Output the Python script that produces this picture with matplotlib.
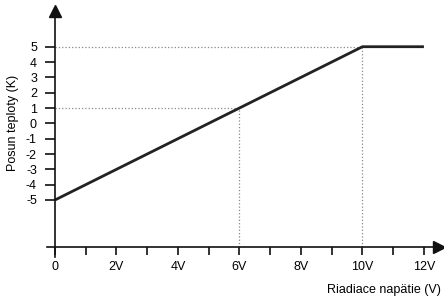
import numpy as np
import matplotlib.pyplot as plt

plt.rc('font', family=['Liberation Sans', 'DejaVu Sans'], size=9)

# characteristic: control voltage -> temperature shift
volts = [0, 10, 12]
shift = [-5, 5, 5]

# helper guide points (dotted)
guide_v = [6, 10]
guide_t = [1, 5]

xticks_major = [0, 2, 4, 6, 8, 10, 12]
xtick_labels = ['0', '2V', '4V', '6V', '8V', '10V', '12V']
xticks_minor = [1, 3, 5, 7, 9, 11]
yticks = [-5, -4, -3, -2, -1, 0, 1, 2, 3, 4, 5]
ytick_labels = ['-5', '-4', '-3', '-2', '-1', '0', '1', '2', '3', '4', '5']

W, H = 444, 299
fig = plt.figure(figsize=(W / 100, H / 100), dpi=100)
# axes box in pixels: left 47, right 439, top 11, bottom 257
ax = fig.add_axes([47 / W, (H - 257) / H, (439 - 47) / W, (257 - 11) / H])

x_lo, x_hi = -0.26, 12.49
y_lo, y_hi = -8.72, 7.33
y_axis0 = -8.07  # where the horizontal axis sits
ax.set_xlim(x_lo, x_hi)
ax.set_ylim(y_lo, y_hi)

for s in ['top', 'right']:
    ax.spines[s].set_visible(False)
ax.spines['left'].set_position(('data', 0))
ax.spines['bottom'].set_position(('data', y_axis0))
for s in ['left', 'bottom']:
    ax.spines[s].set_linewidth(1.2)
    ax.spines[s].set_color('#111111')

# arrow heads
ax.plot(0, 1, marker='^', color='#111111', markersize=9,
        transform=ax.get_xaxis_transform(), clip_on=False)
ax.plot(1, y_axis0, marker='>', color='#111111', markersize=9,
        transform=ax.get_yaxis_transform(), clip_on=False)

ax.set_xticks(xticks_major)
ax.set_xticklabels(xtick_labels)
ax.set_xticks(xticks_minor, minor=True)
ax.set_yticks(yticks)
ax.set_yticklabels(ytick_labels)
ax.tick_params(axis='x', which='both', direction='out', length=6, width=1.2,
               color='#111111', pad=4)
ax.tick_params(axis='y', direction='out', length=7, width=1.2,
               color='#111111', pad=6)

# dotted guides
for v, t in zip(guide_v, guide_t):
    ax.plot([0, v], [t, t], ':', color='#888888', lw=0.9)
    ax.plot([v, v], [y_axis0, t], ':', color='#888888', lw=0.9)

ax.plot(volts, shift, color='#222222', lw=2.0, solid_capstyle='butt')

fig.text(13 / W, 1 - 123 / H, 'Posun teploty (K)', rotation=90,
         ha='center', va='center')
fig.text(441 / W, 1 - 290 / H, 'Riadiace napätie (V)', ha='right', va='center')

fig.savefig('out.png', dpi=100)
